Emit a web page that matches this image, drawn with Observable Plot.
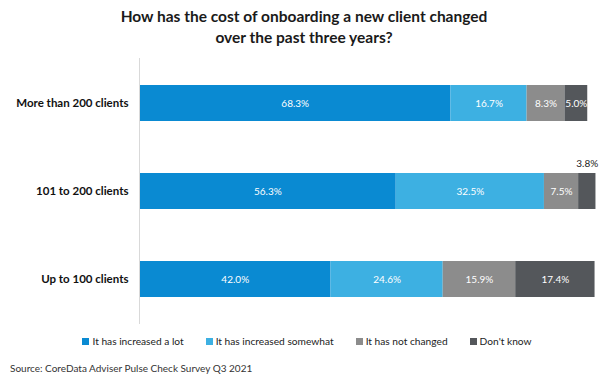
<!DOCTYPE html>
<html>
<head>
<meta charset="utf-8">
<script src="https://cdn.jsdelivr.net/npm/d3@7"></script>
<script src="https://cdn.jsdelivr.net/npm/@observablehq/plot@0.6"></script>
<style>
  html, body { margin: 0; padding: 0; background: #fff; }
  body { width: 608px; height: 387px; overflow: hidden; font-family: Lato, "Open Sans", sans-serif; color: #000; }
  #title { height: 57px; box-sizing: border-box; padding-top: 6px; text-align: center; font-weight: bold; font-size: 15.5px; line-height: 21px; color: #1a1a1a; }
  #chart svg { display: block; }
  #legend { display: flex; justify-content: center; gap: 22px; font-size: 10.2px; margin-top: 8px; height: 16px; align-items: center; padding-left: 6px; color: #222; }
  #legend .item { display: flex; align-items: center; }
  #legend .sw { width: 7px; height: 7px; margin-right: 3px; }
  #source { font-size: 10px; margin-top: 13px; padding-left: 10px; color: #333; }
</style>
</head>
<body>
<div id="title">How has the cost of onboarding a new client changed<br>over the past three years?</div>
<div id="chart"></div>
<div id="legend"></div>
<div id="source">Source:  CoreData Adviser Pulse Check Survey Q3 2021</div>
<script>
const categories = ["More than 200 clients", "101 to 200 clients", "Up to 100 clients"];
const seriesNames = ["It has increased a lot", "It has increased somewhat", "It has not changed", "Don't know"];
const increasedALot = [68.3, 56.3, 42.0];
const increasedSomewhat = [16.7, 32.5, 24.6];
const notChanged = [8.3, 7.5, 15.9];
const dontKnow = [5.0, 3.8, 17.4];
const colors = ["#0a8ad2", "#3db0e2", "#8c8c8c", "#54575b"];

const seriesValues = [increasedALot, increasedSomewhat, notChanged, dontKnow];
const data = [];
categories.forEach((c, i) => {
  seriesNames.forEach((s, j) => {
    data.push({category: c, series: s, value: seriesValues[j][i]});
  });
});
const fmt = d => d.value.toFixed(1) + "%";

const chart = Plot.plot({
  width: 608,
  height: 268,
  marginLeft: 139,
  marginRight: 13,
  marginTop: 1,
  marginBottom: 1,
  x: {domain: [0, 100], axis: null},
  y: {domain: categories, paddingInner: 0.596, paddingOuter: 0.3, label: null, tickSize: 0, tickPadding: 11},
  color: {domain: seriesNames, range: colors},
  style: {fontFamily: "Lato, 'Open Sans', sans-serif"},
  marks: [
    Plot.barX(data, Plot.stackX({x: "value", y: "category", fill: "series", order: seriesNames})),
    Plot.textX(data, Plot.stackX({
      x: "value", y: "category", z: "series", order: seriesNames,
      text: d => d.value >= 4 ? fmt(d) : "", fill: "white", fontSize: 10
    })),
    Plot.textX(data, Plot.stackX({
      x: "value", y: "category", z: "series", order: seriesNames,
      text: d => d.value < 4 ? fmt(d) : "", fill: "#222", fontSize: 10, dy: -28
    })),
    Plot.ruleX([0], {stroke: "#d9d9d9"}),
    Plot.axisY({tickSize: 0, tickPadding: 11, fontSize: 11.5, fontWeight: "bold", fill: "#111"})
  ]
});
chart.querySelectorAll("[aria-label='y-axis tick label'] text").forEach(t => t.setAttribute("font-weight", "bold"));
document.getElementById("chart").appendChild(chart);

const legend = document.getElementById("legend");
seriesNames.forEach((s, i) => {
  const item = document.createElement("div");
  item.className = "item";
  const sw = document.createElement("span");
  sw.className = "sw";
  sw.style.background = colors[i];
  const label = document.createElement("span");
  label.textContent = s;
  item.appendChild(sw);
  item.appendChild(label);
  legend.appendChild(item);
});
</script>
</body>
</html>
